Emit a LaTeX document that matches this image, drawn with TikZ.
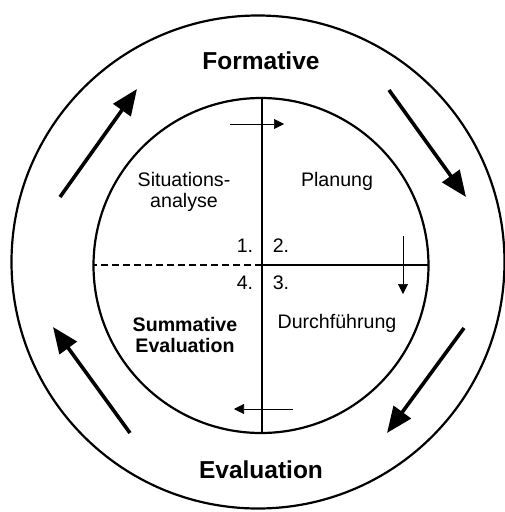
\documentclass[tikz,border=0pt]{standalone}
\usepackage{fontspec}
\setmainfont{Liberation Sans}
\usetikzlibrary{arrows.meta}
\begin{document}
\begin{tikzpicture}[x=1pt,y=-1pt,
  ring/.style={line width=2.2pt},
  divider/.style={line width=2pt},
  bigarrow/.style={line width=3.6pt,-{Triangle[length=26pt,width=21pt]}},
  smallarrow/.style={line width=0.6pt,-{Triangle[length=10pt,width=10pt]}},
  title/.style={font=\fontsize{24.5}{28}\selectfont\bfseries},
  label/.style={font=\fontsize{19.6}{22}\selectfont,align=center},
  boldlabel/.style={font=\fontsize{19.6}{22}\selectfont\bfseries,align=center},
  num/.style={font=\fontsize{19.6}{22}\selectfont}]
\useasboundingbox (0,0) rectangle (504,512);
\fill[white] (0,0) rectangle (504,512);

% outer ring and inner circle
\draw[ring] (258,262) circle[radius=246.5];
\draw[ring] (261,265.5) circle[radius=167.5];

% quadrant dividers
\coordinate (top) at (262,98);
\coordinate (bottom) at (262,433);
\coordinate (left) at (93.5,265);
\coordinate (right) at (428.5,265);
\coordinate (centre) at (262,265);
\draw[divider] (top) -- (bottom);
\draw[divider] (centre) -- (right);
\draw[divider,dash pattern=on 7pt off 4pt] (centre) -- (left);

% headings
\node[title] (formative) at (261,61) {Formative};
\node[title] (evaluation) at (261,470) {Evaluation};

% quadrant labels
\node[label] (situation) at (184,192) {Situations-\\[-1pt]analyse};
\node[label] (planung) at (337,181) {Planung};
\node[boldlabel] (summative) at (185,335) {Summative\\[-1pt]Evaluation};
\node[label] (durch) at (337,323) {Durchführung};

\node[num] (n1) at (245,246) {1.};
\node[num] (n2) at (281,246) {2.};
\node[num] (n3) at (281,283) {3.};
\node[num] (n4) at (245,283) {4.};

% small flow arrows inside
\coordinate (sa1) at (230,124);
\coordinate (sa2) at (284,124);
\coordinate (sb1) at (403,236);
\coordinate (sb2) at (403,294);
\coordinate (sc1) at (293,409);
\coordinate (sc2) at (234,409);
\draw[smallarrow] (sa1) -- (sa2);
\draw[smallarrow] (sb1) -- (sb2);
\draw[smallarrow] (sc1) -- (sc2);

% big cycle arrows in the ring
\coordinate (ul1) at (60,197);
\coordinate (ul2) at (137,89);
\coordinate (ur1) at (389,90);
\coordinate (ur2) at (466,197);
\coordinate (lr1) at (464,328);
\coordinate (lr2) at (387,433);
\coordinate (ll1) at (130,433);
\coordinate (ll2) at (53,327);
\draw[bigarrow] (ul1) -- (ul2);
\draw[bigarrow] (ur1) -- (ur2);
\draw[bigarrow] (lr1) -- (lr2);
\draw[bigarrow] (ll1) -- (ll2);
\end{tikzpicture}
\end{document}
